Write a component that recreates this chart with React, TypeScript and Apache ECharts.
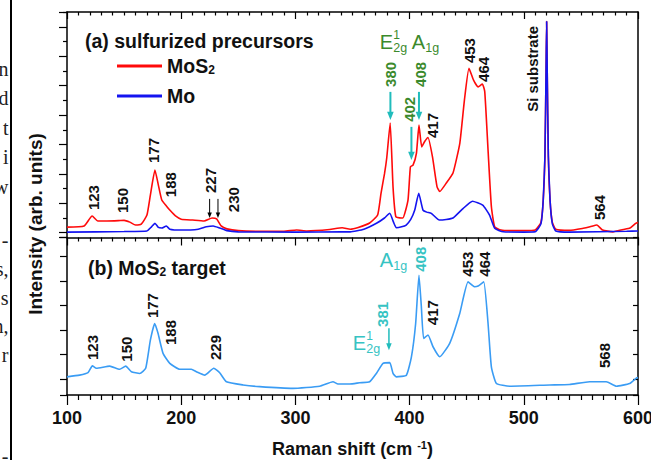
import React, { useEffect, useRef } from 'react';
import * as echarts from 'echarts';

const FONT = '"Liberation Sans", Arial, Helvetica, sans-serif';
const SERIF = '"Liberation Serif", "DejaVu Serif", serif';

// ---------- data (Raman shift cm-1, intensity a.u.) ----------
const xRange = [100, 600];
const xMajorStep = 100;

const mos2Spectrum: [number, number][] = [
  [100, 0.19], [115, 0.23], [122, 0.57], [127, 0.4], [135, 0.4], [145, 0.41], [150, 0.42], [155, 0.36],
  [160, 0.26], [165, 0.29], [170, 0.6], [173, 1.28], [177, 2.13], [180, 1.62], [183, 1.11], [187, 0.91],
  [190, 0.77], [195, 0.57], [200, 0.46], [210, 0.43], [220, 0.4], [227, 0.5], [231, 0.47], [235, 0.23],
  [240, 0.13], [250, 0.07], [270, 0.05], [290, 0.05], [301, 0.09], [310, 0.06], [330, 0.11], [341, 0.17],
  [348, 0.12], [355, 0.18], [365, 0.33], [372, 0.6], [375, 1.35], [378, 2.0], [380, 2.55], [383, 3.73],
  [385.5, 1.55], [388, 0.54], [394, 0.5], [398.6, 1.11], [400.7, 2.24], [403, 2.3], [406, 2.71], [408.2, 3.66],
  [410.6, 2.92], [413.2, 3.1], [416.1, 3.24], [420, 2.59], [424, 1.57], [426.4, 1.4], [432, 1.68], [438, 2.03],
  [444, 3.05], [448, 4.51], [452, 5.59], [456, 5.19], [460, 4.96], [463.7, 5.06], [465.8, 4.8], [468.7, 2.81],
  [471.6, 0.89], [474.5, 0.2], [480, 0.09], [490, 0.07], [500, 0.07], [510, 0.09], [515, 0.35], [517, 1.1],
  [518.5, 2.6], [519.5, 5.5], [520, 7.18], [520.5, 5.5], [521.5, 2.6], [523, 1.1], [525, 0.35], [528, 0.12],
  [540, 0.08], [552, 0.15], [558, 0.2], [564, 0.26], [569, 0.09], [578, 0.03], [587, 0.11], [593, 0.16],
  [598, 0.32], [600, 0.35],
];

const moSpectrum: [number, number][] = [
  [100, 0.02], [150, 0.04], [170, 0.06], [174, 0.2], [177, 0.32], [180, 0.18], [183, 0.16], [187, 0.23],
  [190, 0.12], [200, 0.09], [215, 0.12], [222, 0.2], [228, 0.23], [233, 0.17], [240, 0.07], [250, 0.03],
  [300, 0.02], [340, 0.03], [348, 0.03], [360, 0.12], [371, 0.32], [378, 0.5], [382.6, 0.66], [386, 0.35],
  [388.4, 0.17], [393, 0.2], [397, 0.26], [401, 0.45], [404.5, 0.77], [408, 1.34], [411.7, 0.77], [415, 0.7],
  [419, 0.66], [426, 0.43], [432, 0.45], [438, 0.5], [447, 0.83], [455, 1.07], [464, 0.94], [470, 0.6],
  [474.5, 0.15], [482, 0.03], [500, 0.02], [510, 0.03], [515, 0.3], [517, 1.1], [518.5, 2.6], [519.5, 5.5],
  [520, 7.18], [520.5, 5.5], [521.5, 2.6], [523, 1.1], [525, 0.3], [528, 0.06], [540, 0.02], [590, 0.05],
  [600, 0.06],
];

const targetSpectrum: [number, number][] = [
  [100, 0.09], [111, 0.16], [118.4, 0.26], [122.2, 0.54], [125.7, 0.44], [137.4, 0.53], [146.1, 0.4],
  [151.4, 0.53], [156.4, 0.3], [163.7, 0.23], [168.9, 0.44], [173, 1.59], [176.8, 2.27], [179.7, 1.87],
  [184.1, 1.05], [190, 0.64], [198.7, 0.4], [208.9, 0.4], [213.3, 0.3], [220.6, 0.16], [228.5, 0.44],
  [233.7, 0.26], [239.6, -0.11], [254.1, -0.24], [268.7, -0.31], [297.9, -0.38], [321.3, -0.29],
  [332.9, -0.11], [337.3, -0.2], [347.6, -0.2], [356.3, -0.15], [365, -0.11], [370.9, 0.23], [376.7, 0.64],
  [382.6, 0.67], [385.5, 0.23], [388.4, 0.09], [397.2, 0.16], [401.6, 0.91], [405.3, 2.27], [408.2, 4.24],
  [410.3, 2.95], [412.3, 1.66], [416.1, 1.8], [420.5, 1.32], [426.4, 0.91], [435.1, 1.46], [443.9, 2.68],
  [451.2, 3.97], [457, 3.77], [460, 3.8], [464.9, 3.97], [468.7, 2.27], [471.6, 0.5], [476, -0.18],
  [487.7, -0.29], [522.7, -0.24], [540, -0.22], [557.7, -0.11], [572.3, -0.11], [581.1, -0.29],
  [592.7, -0.18], [598.6, 0.04], [600, 0.06],
];

// ---------- annotations (anchored in data coordinates) ----------
const topPeakLabels = [
  { text: '123', x: 123.4, y: 0.77 }, { text: '150', x: 148.3, y: 0.67 }, { text: '177', x: 175.9, y: 2.37 },
  { text: '188', x: 190.8, y: 1.21 }, { text: '227', x: 225.8, y: 1.35 }, { text: '230', x: 245.9, y: 0.7 },
  { text: '417', x: 420.2, y: 3.22 }, { text: '453', x: 452.6, y: 5.77 }, { text: '464', x: 464.9, y: 5.13 },
  { text: '564', x: 566.5, y: 0.43 }, { text: 'Si substrate', x: 507.8, y: 4.11 },
];
const topModeNumbers = [
  { text: '380', x: 383.3, y: 4.96 }, { text: '402', x: 400.1, y: 3.77 }, { text: '408', x: 409.6, y: 4.96 },
];
const topBlackArrows = [{ x: 224.9, from: 1.15, to: 0.5 }, { x: 232.2, from: 1.15, to: 0.5 }];
const topCyanArrows = [
  { x: 383.2, from: 4.79, to: 3.83 }, { x: 401.6, from: 3.6, to: 2.47 }, { x: 408.2, from: 4.79, to: 3.83 },
];
const topModes = [
  { main: 'E', sup: '1', sub: '2g', x: 373.8, y: 6.49 },
  { main: 'A', sup: '', sub: '1g', x: 401.8, y: 6.49 },
];

const bottomPeakLabels = [
  { text: '123', x: 122.5, y: 0.78 }, { text: '150', x: 152.3, y: 0.71 }, { text: '177', x: 175, y: 2.49 },
  { text: '188', x: 190.8, y: 1.39 }, { text: '229', x: 230.2, y: 0.78 }, { text: '417', x: 420.2, y: 2.2 },
  { text: '453', x: 450.9, y: 4.18 }, { text: '464', x: 465.8, y: 4.18 }, { text: '568', x: 570.8, y: 0.45 },
];
const bottomModeNumbers = [{ text: '381', x: 376.4, y: 2.13 }, { text: '408', x: 409.6, y: 4.38 }];
const bottomCyanArrows = [{ x: 381.9, from: 2.08, to: 1.18 }];
const bottomModes = [
  { main: 'E', sup: '1', sub: '2g', x: 350.2, y: 1.47 },
  { main: 'A', sup: '', sub: '1g', x: 373.8, y: 4.86 },
];

const pageFragments = [
  { text: 'n', y: 75 }, { text: 'd', y: 104 }, { text: 't', y: 134 }, { text: 'i', y: 163 }, { text: 'w', y: 193 },
  { text: '-', y: 246 }, { text: 's,', y: 275 }, { text: 's', y: 304 }, { text: 'n,', y: 332 }, { text: 'r', y: 361 },
  { text: '-', y: 462 },
];

const RED = '#ff0a0a';
const BLUE = '#1414f0';
const LIGHT = '#3a9cf4';
const GREEN = '#3b8a2c';
const CYAN = '#20bcbc';
const CYAN_TXT = '#36c3c3';
const INK = '#111';

const axisLine = { show: true, onZero: false, lineStyle: { color: '#000', width: 1.5 } };
const tickStyle = { color: '#000', width: 1.2 };

export default function App() {
  const ref = useRef<HTMLDivElement>(null);
  useEffect(() => {
    const chart = echarts.init(ref.current!, null, { renderer: 'svg' });
    const xCommon = {
      type: 'value', min: xRange[0], max: xRange[1], interval: xMajorStep,
      splitLine: { show: false }, axisLine,
    };
    const option: any = {
      animation: false,
      backgroundColor: '#fff',
      grid: [
        { left: 67, right: 13, top: 12, bottom: 222.5, containLabel: false, outerBoundsMode: 'none' },
        { left: 67, right: 13, top: 237.5, bottom: 65, containLabel: false, outerBoundsMode: 'none' },
      ],
      legend: {
        data: ['MoS2', 'Mo'], orient: 'vertical', left: 112, top: 51, itemWidth: 45, itemHeight: 3,
        itemGap: 10, icon: 'rect',
        formatter: (n: string) => (n === 'MoS2' ? 'MoS{s|2}' : n),
        textStyle: {
          fontSize: 19.5, fontWeight: 'bold', fontFamily: FONT, color: INK, lineHeight: 20,
          rich: { s: { fontSize: 12, fontWeight: 'bold', fontFamily: FONT, color: INK, verticalAlign: 'bottom', lineHeight: 6 } },
        },
      },
      xAxis: [
        { ...xCommon, gridIndex: 0, position: 'bottom', axisLabel: { show: false },
          axisTick: { show: true, inside: false, length: 8, lineStyle: tickStyle },
          minorTick: { show: true, splitNumber: 10, length: 4, lineStyle: tickStyle } },
        { ...xCommon, gridIndex: 0, position: 'top', axisLabel: { show: false },
          axisTick: { show: true, inside: true, length: 7, lineStyle: tickStyle },
          minorTick: { show: true, splitNumber: 10, length: 3.5, lineStyle: tickStyle } },
        { ...xCommon, gridIndex: 1, position: 'bottom',
          axisTick: { show: true, inside: false, length: 10, lineStyle: tickStyle },
          minorTick: { show: true, splitNumber: 10, length: 5, lineStyle: tickStyle },
          axisLabel: { show: true, margin: 14, fontSize: 18, fontWeight: 'bold', fontFamily: FONT, color: INK,
            alignMinLabel: 'center', alignMaxLabel: 'center', hideOverlap: false },
          name: 'Raman shift (cm {sup|-1})', nameLocation: 'middle', nameGap: 44,
          nameTextStyle: {
            fontSize: 18, fontWeight: 'bold', fontFamily: FONT, color: INK, lineHeight: 20,
            rich: { sup: { fontSize: 11, fontWeight: 'bold', fontFamily: FONT, color: INK, verticalAlign: 'top', lineHeight: 8 } },
          } },
      ],
      yAxis: [
        { type: 'value', gridIndex: 0, min: -0.163, max: 7.507, minInterval: 1, maxInterval: 1, axisLine,
          axisTick: { show: true, inside: false, length: 8, lineStyle: tickStyle },
          minorTick: { show: true, splitNumber: 2, length: 4, lineStyle: tickStyle },
          axisLabel: { show: false }, splitLine: { show: false } },
        { type: 'value', gridIndex: 0, position: 'right', min: -0.163, max: 7.507, minInterval: 1, maxInterval: 1, axisLine,
          axisTick: { show: false }, axisLabel: { show: false }, splitLine: { show: false } },
        { type: 'value', gridIndex: 1, min: -0.65, max: 5.78, minInterval: 1, maxInterval: 1, axisLine,
          axisTick: { show: true, inside: false, length: 7, lineStyle: tickStyle },
          axisLabel: { show: false }, splitLine: { show: false } },
        { type: 'value', gridIndex: 1, position: 'right', min: -0.65, max: 5.78, minInterval: 1, maxInterval: 1, axisLine,
          axisTick: { show: true, inside: true, length: 5, lineStyle: tickStyle },
          axisLabel: { show: false }, splitLine: { show: false } },
      ],
      series: [
        { name: 'MoS2', type: 'line', xAxisIndex: 0, yAxisIndex: 0, data: mos2Spectrum, showSymbol: false,
          smooth: 0.15, lineStyle: { color: RED, width: 1.6 }, itemStyle: { color: RED } },
        { name: 'Mo', type: 'line', xAxisIndex: 0, yAxisIndex: 0, data: moSpectrum, showSymbol: false,
          smooth: 0.15, lineStyle: { color: BLUE, width: 1.6 }, itemStyle: { color: BLUE } },
        { name: 'MoS2 target', type: 'line', xAxisIndex: 2, yAxisIndex: 2, data: targetSpectrum, showSymbol: false,
          smooth: 0.15, lineStyle: { color: LIGHT, width: 1.6 }, itemStyle: { color: LIGHT } },
      ],
    };
    chart.setOption(option);

    const px = (panel: number, x: number, y: number): number[] =>
      chart.convertToPixel(panel === 0 ? { xAxisIndex: 0, yAxisIndex: 0 } : { xAxisIndex: 2, yAxisIndex: 2 }, [x, y]) as number[];

    const els: any[] = [];
    const rotText = (p: number[], text: string, color: string, size = 15) => {
      els.push({ type: 'text', x: p[0], y: p[1], rotation: Math.PI / 2, silent: true,
        style: { text, fill: color, fontSize: size, fontWeight: 'bold', fontFamily: FONT, align: 'left', verticalAlign: 'middle' } });
    };
    const arrow = (p0: number[], p1: number[], color: string, head: number, width: number) => {
      els.push({ type: 'line', silent: true, shape: { x1: p0[0], y1: p0[1], x2: p1[0], y2: p1[1] - head },
        style: { stroke: color, lineWidth: width } });
      els.push({ type: 'polygon', silent: true,
        shape: { points: [[p1[0] - head * 0.55, p1[1] - head * 1.4], [p1[0] + head * 0.55, p1[1] - head * 1.4], [p1[0], p1[1]]] },
        style: { fill: color } });
    };
    const mode = (p: number[], m: { main: string; sup: string; sub: string }, color: string) => {
      const base = { fill: color, fontFamily: FONT, align: 'left', verticalAlign: 'middle' };
      els.push({ type: 'text', x: p[0], y: p[1], silent: true, style: { ...base, text: m.main, fontSize: 20 } });
      const w = 13.6;
      if (m.sup) els.push({ type: 'text', x: p[0] + w, y: p[1] - 7, silent: true, style: { ...base, text: m.sup, fontSize: 12 } });
      els.push({ type: 'text', x: p[0] + w, y: p[1] + 6, silent: true, style: { ...base, text: m.sub, fontSize: 12.5 } });
    };

    topPeakLabels.forEach((l) => rotText(px(0, l.x, l.y), l.text, INK));
    topModeNumbers.forEach((l) => rotText(px(0, l.x, l.y), l.text, GREEN));
    topBlackArrows.forEach((a) => arrow(px(0, a.x, a.from), px(0, a.x, a.to), '#000', 4, 1));
    topCyanArrows.forEach((a) => arrow(px(0, a.x, a.from), px(0, a.x, a.to), CYAN, 6, 2));
    topModes.forEach((m) => mode(px(0, m.x, m.y), m, GREEN));

    bottomPeakLabels.forEach((l) => rotText(px(1, l.x, l.y), l.text, INK));
    bottomModeNumbers.forEach((l) => rotText(px(1, l.x, l.y), l.text, CYAN_TXT));
    bottomCyanArrows.forEach((a) => arrow(px(1, a.x, a.from), px(1, a.x, a.to), CYAN, 5, 1.5));
    bottomModes.forEach((m) => mode(px(1, m.x, m.y), m, CYAN_TXT));

    // panel titles
    els.push({ type: 'text', x: 85, y: 41, silent: true,
      style: { text: '(a) sulfurized precursors', fill: INK, fontSize: 19.5, fontWeight: 'bold', fontFamily: FONT, align: 'left', verticalAlign: 'middle' } });
    els.push({ type: 'text', x: 88, y: 268, silent: true,
      style: { text: '(b) MoS{s|2} target', fill: INK, fontSize: 19.5, fontWeight: 'bold', fontFamily: FONT, align: 'left', verticalAlign: 'middle',
        lineHeight: 20, rich: { s: { fontSize: 12, fontWeight: 'bold', fontFamily: FONT, fill: INK, verticalAlign: 'bottom', lineHeight: 6 } } } });
    // y-axis title
    els.push({ type: 'text', x: 35, y: 224, rotation: Math.PI / 2, silent: true,
      style: { text: 'Intensity (arb. units)', fill: INK, fontSize: 19, fontWeight: 'bold', fontFamily: FONT, align: 'center', verticalAlign: 'middle' } });
    // cropped page margin
    els.push({ type: 'line', silent: true, shape: { x1: 11, y1: 0, x2: 11, y2: 460 }, style: { stroke: '#000', lineWidth: 2 } });
    pageFragments.forEach((f) => els.push({ type: 'text', x: 8.5, y: f.y + 4, silent: true,
      style: { text: f.text, fill: '#222', fontSize: 20, fontFamily: SERIF, align: 'right', verticalAlign: 'bottom' } }));

    chart.setOption({ graphic: { elements: els } });
    return () => chart.dispose();
  }, []);
  return <div ref={ref} style={{ position: 'absolute', left: 0, top: 0, width: 651, height: 460 }} />;
}
